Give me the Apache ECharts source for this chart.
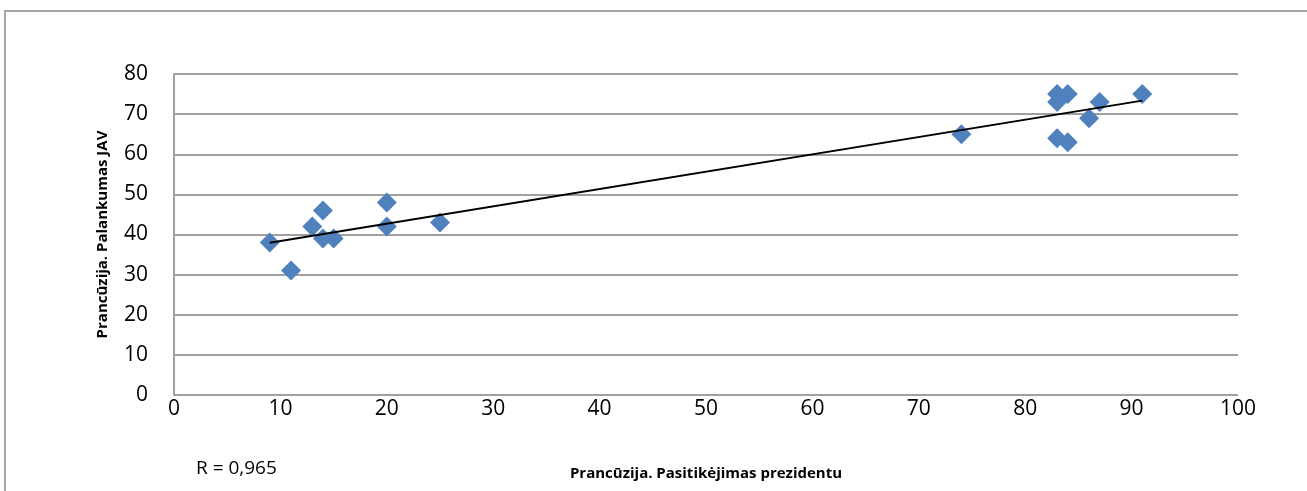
<!DOCTYPE html>
<html>
<head>
<meta charset="utf-8">
<script src="https://cdn.jsdelivr.net/npm/echarts@6/dist/echarts.min.js"></script>
<style>
html,body{margin:0;padding:0;background:#fff;}
#c{width:1307px;height:491px;}
</style>
</head>
<body>
<div id="c"></div>
<script>
const xValues = [9, 11, 13, 14, 14, 15, 20, 20, 25, 74, 83, 83, 84, 83, 84, 86, 87, 91];
const yValues = [38, 31, 42, 46, 39, 39, 48, 42, 43, 65, 75, 73, 75, 64, 63, 69, 73, 75];
const xTicks = [0, 10, 20, 30, 40, 50, 60, 70, 80, 90, 100];
const yTicks = [0, 10, 20, 30, 40, 50, 60, 70, 80];
const xTitle = 'Prancūzija. Pasitikėjimas prezidentu';
const yTitle = 'Prancūzija. Palankumas JAV';
const rLabel = 'R = 0,965';

const points = xValues.map((x, i) => [x, yValues[i]]);
// least-squares trend line from the data
const n = xValues.length;
const mx = xValues.reduce((a, b) => a + b, 0) / n;
const my = yValues.reduce((a, b) => a + b, 0) / n;
let sxy = 0, sxx = 0;
for (let i = 0; i < n; i++) { sxy += (xValues[i] - mx) * (yValues[i] - my); sxx += (xValues[i] - mx) ** 2; }
const slope = sxy / sxx, icpt = my - slope * mx;
const x0 = Math.min(...xValues), x1 = Math.max(...xValues);
const trend = [[x0, icpt + slope * x0], [x1, icpt + slope * x1]];

const font = '"Open Sans", "Noto Sans", sans-serif';
const chart = echarts.init(document.getElementById('c'));
chart.setOption({
  animation: false,
  backgroundColor: '#fff',
  grid: { left: 174, right: 69, top: 74, bottom: 96, containLabel: false },
  xAxis: {
    type: 'value', min: 0, max: 100, interval: 10,
    axisLine: { show: false },
    axisTick: { show: false },
    splitLine: { show: false },
    axisLabel: { color: '#000', fontSize: 21, fontFamily: font, margin: 4 },
    name: xTitle, nameLocation: 'middle', nameGap: 71,
    nameTextStyle: { color: '#000', fontSize: 15, fontWeight: 'bold', fontFamily: font }
  },
  yAxis: {
    type: 'value', min: 0, max: 80, interval: 10,
    axisLine: { show: true, lineStyle: { color: '#a0a0a0', width: 2 } },
    axisTick: { show: false },
    splitLine: { show: true, lineStyle: { color: '#a0a0a0', width: 2 } },
    axisLabel: { color: '#000', fontSize: 21, fontFamily: font, margin: 26 },
    name: yTitle, nameLocation: 'middle', nameGap: 64, nameRotate: 90,
    nameTextStyle: { color: '#000', fontSize: 15, fontWeight: 'bold', fontFamily: font }
  },
  graphic: [
    { type: 'rect', shape: { x: 5, y: 11, width: 1400, height: 600 },
      style: { fill: 'none', stroke: '#a6a6a6', lineWidth: 2 }, z: -10 },
    { type: 'text', left: 196, top: 459,
      style: { text: rLabel, fill: '#000', font: '19px ' + font } }
  ],
  series: [
    { type: 'scatter', data: points, symbol: 'diamond', symbolSize: 20,
      itemStyle: { color: '#4F81BD', opacity: 1 }, z: 2 },
    { type: 'line', data: trend, symbol: 'none', lineStyle: { color: '#000', width: 2 }, z: 3 }
  ]
});
</script>
</body>
</html>
